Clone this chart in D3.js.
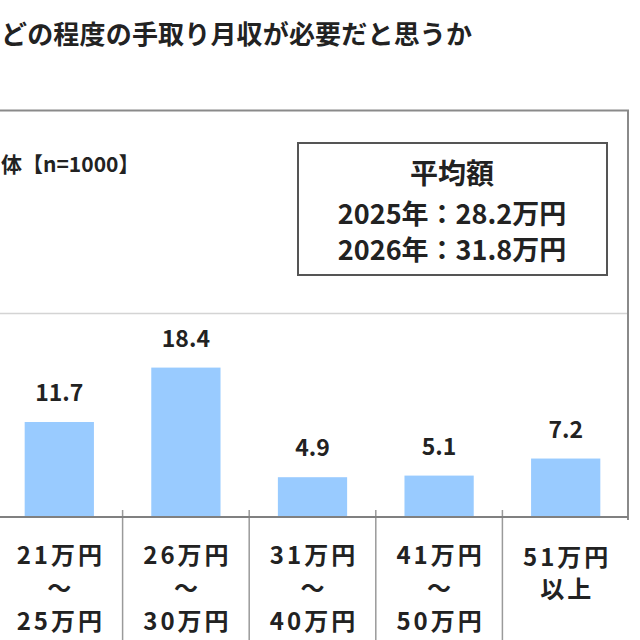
<!DOCTYPE html>
<html>
<head>
<meta charset="utf-8">
<script src="https://cdn.jsdelivr.net/npm/d3@7"></script>
<style>
  html, body { margin: 0; padding: 0; background: #fff; overflow: hidden; }
  svg { display: block; }
  text { font-family: "Noto Sans CJK JP", "Noto Sans", sans-serif; fill: #222; }
</style>
</head>
<body>
<svg id="chart" width="640" height="640"></svg>
<script>
// ---- data ----
const title = "どの程度の手取り月収が必要だと思うか";
const sampleLabel = "体【n=1000】";
const categories = ["21万円～25万円", "26万円～30万円", "31万円～40万円", "41万円～50万円", "51万円以上"];
const categoryLines = [
  ["21万円", "～", "25万円"],
  ["26万円", "～", "30万円"],
  ["31万円", "～", "40万円"],
  ["41万円", "～", "50万円"],
  ["51万円", "以上"]
];
const values = [11.7, 18.4, 4.9, 5.1, 7.2];
const averageTitle = "平均額";
const averageLines = ["2025年：28.2万円", "2026年：31.8万円"];

// ---- drawing ----
const svg = d3.select("#chart");

const x = d3.scaleBand()
  .domain(categories)
  .range([-4, 629])
  .paddingInner(0.453)
  .paddingOuter(0.2265);

const y = d3.scaleLinear().domain([0, 25]).range([517, 314]);

// title
svg.append("text")
  .attr("x", 1).attr("y", 32)
  .attr("dominant-baseline", "central")
  .attr("font-size", 26).attr("font-weight", "bold")
  .attr("textLength", 471).attr("lengthAdjust", "spacing")
  .text(title);

// outer frame (top + right)
svg.append("path")
  .attr("d", "M0,110.5 H628 V520")
  .attr("fill", "none").attr("stroke", "#8a8a8a").attr("stroke-width", 2);

// sample label
svg.append("text")
  .attr("x", 1).attr("y", 163)
  .attr("dominant-baseline", "central")
  .attr("font-size", 21).attr("font-weight", "bold")
  .text(sampleLabel);

// average box
svg.append("rect")
  .attr("x", 298).attr("y", 143).attr("width", 309).attr("height", 132)
  .attr("fill", "#fff").attr("stroke", "#555").attr("stroke-width", 2);
svg.append("text")
  .attr("x", 452).attr("y", 172)
  .attr("text-anchor", "middle").attr("dominant-baseline", "central")
  .attr("font-size", 28).attr("font-weight", "bold")
  .text(averageTitle);
svg.selectAll("text.avg").data(averageLines).join("text")
  .attr("class", "avg")
  .attr("x", 452).attr("y", (d, i) => 212 + i * 36)
  .attr("text-anchor", "middle").attr("dominant-baseline", "central")
  .attr("font-size", 27).attr("font-weight", "bold")
  .text(d => d);

// plot area top line
svg.append("line")
  .attr("x1", 0).attr("x2", 627).attr("y1", y(25) - 0.5).attr("y2", y(25) - 0.5)
  .attr("stroke", "#d4d4d4").attr("stroke-width", 1.5);

// bars
svg.selectAll("rect.bar").data(values).join("rect")
  .attr("class", "bar")
  .attr("x", (d, i) => x(categories[i]))
  .attr("width", x.bandwidth())
  .attr("y", d => y(d))
  .attr("height", d => y(0) - y(d))
  .attr("fill", "#99cbff");

// value labels
svg.selectAll("text.val").data(values).join("text")
  .attr("class", "val")
  .attr("x", (d, i) => x(categories[i]) + x.bandwidth() / 2)
  .attr("y", d => y(d) - 21)
  .attr("text-anchor", "middle")
  .attr("font-family", "'Liberation Sans', Arial, sans-serif")
  .attr("font-size", 23).attr("font-weight", "bold")
  .text(d => d.toFixed(1));

// separators between categories
const step = x.step();
const bounds = categories.slice(1).map(c => x(c) - x.paddingInner() * step / 2);
svg.selectAll("line.tick").data(bounds).join("line")
  .attr("class", "tick")
  .attr("x1", d => d).attr("x2", d => d)
  .attr("y1", y(0) - 7).attr("y2", 640)
  .attr("stroke", "#9a9a9a").attr("stroke-width", 1.5);

// baseline
svg.append("line")
  .attr("x1", 0).attr("x2", 628).attr("y1", y(0)).attr("y2", y(0))
  .attr("stroke", "#808080").attr("stroke-width", 2);

// category labels
categoryLines.forEach((lines, i) => {
  const cx = x(categories[i]) + x.bandwidth() / 2 + 1.5;
  svg.selectAll(null).data(lines).join("text")
    .attr("x", cx)
    .attr("y", (d, j) => lines.length === 3 ? 553 + j * 33 : 555 + j * 32)
    .attr("text-anchor", "middle").attr("dominant-baseline", "central")
    .attr("font-size", 24).attr("font-weight", "bold")
    .attr("letter-spacing", 3)
    .text(d => d);
});
</script>
</body>
</html>
